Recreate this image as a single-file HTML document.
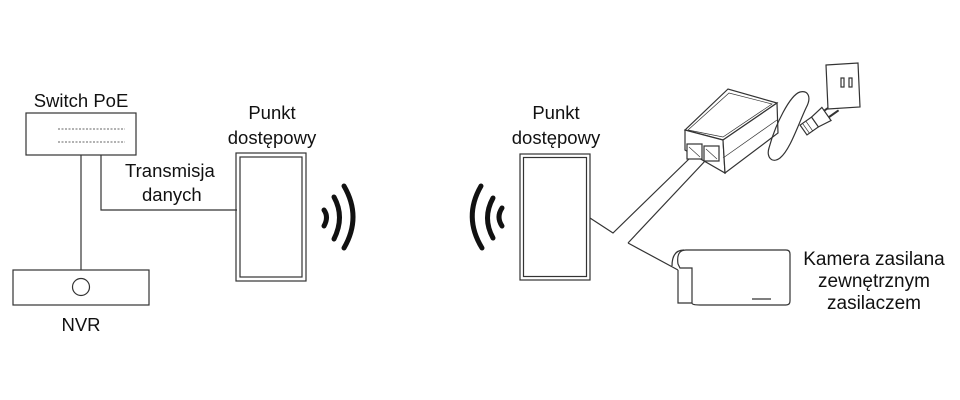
<!DOCTYPE html>
<html><head><style>
body{margin:0;background:#fff;}
svg{display:block;}
text{font-family:"Liberation Sans",sans-serif;fill:#111;}
</style></head><body>
<svg width="960" height="400" viewBox="0 0 960 400" xmlns="http://www.w3.org/2000/svg">
<g stroke="#333" fill="none" stroke-width="1.2">
<rect x="26" y="113" width="110" height="42"/>
<line x1="58" y1="129" x2="125" y2="129" stroke-dasharray="2,1.5" stroke-width="0.8"/>
<line x1="58" y1="142" x2="125" y2="142" stroke-dasharray="2,1.5" stroke-width="0.8"/>
<line x1="81" y1="155" x2="81" y2="270"/>
<polyline points="101,155 101,210 237,210"/>
<rect x="13" y="270" width="136" height="35"/>
<circle cx="81" cy="287" r="8.5"/>
<rect x="236" y="153" width="70" height="128"/>
<rect x="240" y="157" width="62" height="120"/>
<rect x="520" y="154" width="70" height="126"/>
<rect x="523.5" y="157.5" width="63" height="119"/>
<polyline points="590,218 613,233 690,158"/>
<polyline points="628,243 678,270"/>
<polyline points="628,243 706,160"/>
<polygon points="685,130 728,89 777,103 723,140" fill="#fff"/>
<polygon points="688,130 729,93 772,104 723,137" stroke-width="0.7"/>
<polygon points="685,130 723,140 725,173 685,150" fill="#fff"/>
<polygon points="723,140 777,103 778,133 725,173" fill="#fff"/>
<line x1="723" y1="158" x2="777" y2="120" stroke-width="0.7"/>
<rect x="687" y="144" width="15" height="15" fill="#fff"/>
<rect x="704" y="146" width="15" height="15" fill="#fff"/>
<path d="M689,147 l11,10 M706,149 l11,10" stroke-width="0.6"/>
<path d="M769,148 C775,125 790,95 800,92 C808,90 812,97 806,108 C798,125 790,150 780,158 C772,164 766,157 769,148 Z"/>
<g transform="translate(815,122) rotate(-35)">
<rect x="-14" y="-6" width="14" height="12" fill="#fff"/>
<line x1="-11" y1="-6" x2="-11" y2="6" stroke-width="0.7"/>
<line x1="-7" y1="-6" x2="-7" y2="6" stroke-width="0.7"/>
<path d="M0,-6 L14,-8 L14,8 L0,6 Z" fill="#fff"/>
<line x1="14" y1="-4" x2="26" y2="-4" stroke-width="2"/>
<line x1="14" y1="4" x2="26" y2="4" stroke-width="2"/>
</g>
<polygon points="826,65 858,63 860,107 828,109" fill="#fff"/>
<rect x="841" y="78" width="3" height="9"/>
<rect x="849" y="78" width="3" height="9"/>
<path d="M678,270 L678,303 L692,303 L692,268 L680,268 L678,264 Q676,250 686,250 L786,250 Q790,250 790,254 L790,301 Q790,305 786,305 L700,305 Q692,305 692,303" fill="#fff"/>
<path d="M672,266 Q672,250 684,250"/>
<line x1="752" y1="299" x2="771" y2="299"/>
</g>
<g stroke="#111" fill="none" stroke-width="5" stroke-linecap="round">
<path d="M324,210 Q329,217 324,226"/>
<path d="M334,197 Q345,217 334,239"/>
<path d="M344,186 Q362,217 344,248"/>
<path d="M502,208 Q496,217 502,226"/>
<path d="M493,198 Q482,218 493,238"/>
<path d="M481,186 Q463,217 482,248"/>
</g>
<g font-size="18.5">
<text x="81" y="107" text-anchor="middle">Switch PoE</text>
<text x="81" y="331" text-anchor="middle">NVR</text>
<text x="125" y="177">Transmisja</text>
<text x="142" y="201">danych</text>
<text x="272" y="119" text-anchor="middle">Punkt</text>
<text x="272" y="144" text-anchor="middle">dostępowy</text>
<text x="556" y="119" text-anchor="middle">Punkt</text>
<text x="556" y="144" text-anchor="middle">dostępowy</text>
</g>
<g font-size="19">
<text x="874" y="265" text-anchor="middle">Kamera zasilana</text>
<text x="874" y="287" text-anchor="middle">zewnętrznym</text>
<text x="874" y="309" text-anchor="middle">zasilaczem</text>
</g>
</svg>
</body></html>
